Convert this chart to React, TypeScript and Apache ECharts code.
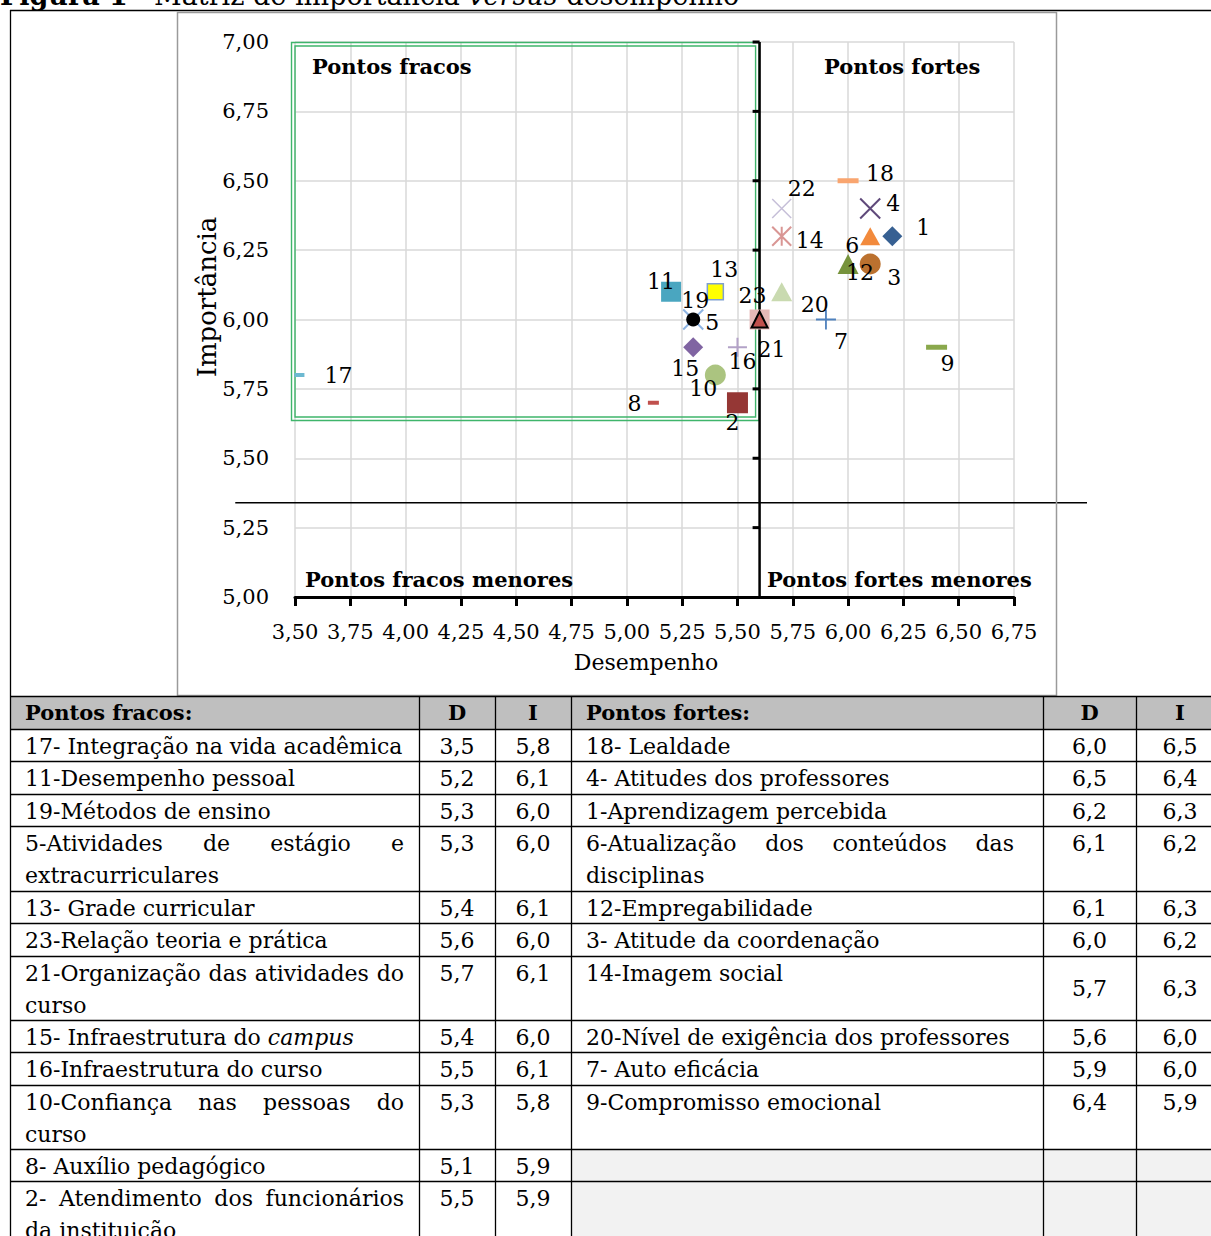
import React, { useEffect, useRef } from 'react';
import * as echarts from 'echarts';

const W = 1211;
const H = 1236;
const SERIF = "'DejaVu Serif', 'Liberation Serif', serif";

// ---------- scatter data (as plotted in the matrix) ----------
const pointIds = ['17', '11', '13', '19', '5', '23', '21', '20', '15', '16', '10', '8', '2', '22', '14', '18', '4', '1', '6', '12', '3', '7', '9'];
const pointDesempenho = [3.52, 5.2, 5.4, 5.3, 5.3, 5.6, 5.6, 5.7, 5.3, 5.5, 5.4, 5.12, 5.5, 5.7, 5.7, 6.0, 6.1, 6.2, 6.1, 6.0, 6.1, 5.9, 6.4];
const pointImportancia = [5.8, 6.1, 6.1, 6.0, 6.0, 6.0, 6.0, 6.1, 5.9, 5.9, 5.8, 5.7, 5.7, 6.4, 6.3, 6.5, 6.4, 6.3, 6.3, 6.2, 6.2, 6.0, 5.9];

// ---------- axes ----------
const xMin = 3.5;
const xMax = 6.75;
const yMin = 5;
const yMax = 7;
const step = 0.25;
const axisCrossX = 5.6;
const quadrantY = 5.34;
const quadrantX0 = 3.23;
const quadrantX1 = 7.08;
const weakBoxLeft = 3.482;
const weakBoxBottom = 5.634;

// ---------- table data ----------
const weakLabels = [
  '17- Integração na vida acadêmica',
  '11-Desempenho pessoal',
  '19-Métodos de ensino',
  '5-Atividades de estágio e\nextracurriculares',
  '13- Grade curricular',
  '23-Relação teoria e prática',
  '21-Organização das atividades do\ncurso',
  '15- Infraestrutura do {i|campus}',
  '16-Infraestrutura do curso',
  '10-Confiança nas pessoas do\ncurso',
  '8- Auxílio pedagógico',
  '2- Atendimento dos funcionários\nda instituição',
];
const weakD = [3.5, 5.2, 5.3, 5.3, 5.4, 5.6, 5.7, 5.4, 5.5, 5.3, 5.1, 5.5];
const weakI = [5.8, 6.1, 6.0, 6.0, 6.1, 6.0, 6.1, 6.0, 6.1, 5.8, 5.9, 5.9];

const strongLabels = [
  '18- Lealdade',
  '4- Atitudes dos professores',
  '1-Aprendizagem percebida',
  '6-Atualização dos conteúdos das\ndisciplinas',
  '12-Empregabilidade',
  '3- Atitude da coordenação',
  '14-Imagem social',
  '20-Nível de exigência dos professores',
  '7- Auto eficácia',
  '9-Compromisso emocional',
];
const strongD = [6.0, 6.5, 6.2, 6.1, 6.1, 6.0, 5.7, 5.6, 5.9, 6.4];
const strongI = [6.5, 6.4, 6.3, 6.2, 6.3, 6.2, 6.3, 6.0, 6.0, 5.9];

// ---------- marker styles ----------
const PATH_X = 'path://M0,0L10,10M10,0L0,10';
const PATH_PLUS = 'path://M5,0L5,10M0,5L10,5';
const PATH_STAR = 'path://M0,0L10,10M10,0L0,10M5,0L5,10';

const markerStyles: Record<string, any> = {
  '17': { symbol: 'rect', size: [10, 4], color: '#6db9d1' },
  '11': { symbol: 'rect', size: [20, 20], color: '#4aa6c0' },
  '13': { symbol: 'rect', size: [16, 16], color: '#ffff00', border: '#7f9fd0', bw: 1.5 },
  '19': { symbol: PATH_X, size: [20, 20], stroke: '#8db3e2', bw: 2 },
  '5': { symbol: 'circle', size: 14, color: '#000000' },
  '23': { symbol: 'rect', size: [20, 20], color: '#e6b9b8' },
  '21': { symbol: 'triangle', size: [16, 16], color: '#c0504d', border: '#000000', bw: 2 },
  '20': { symbol: 'triangle', size: [21, 19], color: '#c9dab0' },
  '15': { symbol: 'diamond', size: [20, 20], color: '#8064a2' },
  '16': { symbol: PATH_PLUS, size: [19, 19], stroke: '#b3a2c7', bw: 2 },
  '10': { symbol: 'circle', size: 21, color: '#abc480' },
  '8': { symbol: 'rect', size: [11, 4], color: '#c0504d' },
  '2': { symbol: 'rect', size: [21, 21], color: '#953735' },
  '22': { symbol: PATH_X, size: [19, 19], stroke: '#c6bfd8', bw: 1.5 },
  '14': { symbol: PATH_STAR, size: [19, 19], stroke: '#d99694', bw: 2 },
  '18': { symbol: 'rect', size: [21, 5], color: '#f9a56f' },
  '4': { symbol: PATH_X, size: [20, 20], stroke: '#5f497a', bw: 2 },
  '1': { symbol: 'diamond', size: [20, 20], color: '#376092' },
  '6': { symbol: 'triangle', size: [20, 18], color: '#f28a3c' },
  '12': { symbol: 'triangle', size: [21, 20], color: '#77933c' },
  '3': { symbol: 'circle', size: 21, color: '#bb712f' },
  '7': { symbol: PATH_PLUS, size: [20, 20], stroke: '#4f81bd', bw: 1.8 },
  '9': { symbol: 'rect', size: [21, 5], color: '#8aa84c' },
};

const labelOffsets: Record<string, number[]> = {
  '17': [39, 0], '11': [-10, -10], '13': [9, -22], '19': [2, -19], '5': [19, 3],
  '23': [-7, -24], '21': [12, 30], '20': [33, 13], '15': [-8, 21], '16': [5, 14],
  '10': [-12, 13], '8': [-19, 1], '2': [-5, 20], '22': [20, -20], '14': [28, 4],
  '18': [32, -7], '4': [23, -5], '1': [31, -9], '6': [-18, 9], '12': [12, 8],
  '3': [24, 13], '7': [15, 22], '9': [11, 16],
};

// ---------- layout of the table ----------
const colX = [10, 419, 495, 571, 1043, 1136, 1225];
const rowY = [696, 729, 761, 794, 826, 891, 923, 956, 1020, 1052, 1085, 1149, 1181, 1250];
const LINE_H = 32;
const TABLE_FONT = 22;

const fmt1 = (v: number) => v.toFixed(1).replace('.', ',');
const fmt2 = (v: number) => v.toFixed(2).replace('.', ',');

let measureCtx: CanvasRenderingContext2D | null = null;
function measure(t: string, size = TABLE_FONT): number {
  if (!measureCtx) measureCtx = document.createElement('canvas').getContext('2d');
  if (!measureCtx) return t.length * size * 0.55;
  measureCtx.font = `${size}px 'DejaVu Serif'`;
  return measureCtx.measureText(t).width;
}

const richStyles = {
  i: { fontStyle: 'italic', fontSize: TABLE_FONT, fontFamily: SERIF, fill: '#000' },
};

function textEl(text: string, x: number, y: number, opts: any = {}) {
  return {
    type: 'text',
    x,
    y,
    z: 5,
    silent: true,
    style: {
      text,
      fontSize: opts.size || TABLE_FONT,
      fontFamily: SERIF,
      fontWeight: opts.weight || 'normal',
      fill: '#000',
      align: opts.align || 'left',
      verticalAlign: opts.vAlign || 'middle',
      rich: richStyles,
    },
  };
}

function cellText(label: string, x0: number, yFirst: number, width: number) {
  const els: any[] = [];
  const lines = label.split('\n');
  lines.forEach((line, li) => {
    const y = yFirst + li * LINE_H;
    if (li === lines.length - 1) {
      els.push(textEl(line, x0, y));
      return;
    }
    const words = line.split(' ');
    const ws = words.map((w) => measure(w));
    const total = ws.reduce((a, b) => a + b, 0);
    const gap = Math.max(measure(' ') * 0.7, (width - total) / Math.max(1, words.length - 1));
    let x = x0;
    words.forEach((w, k) => {
      els.push(textEl(w, x, y));
      x += ws[k] + gap;
    });
  });
  return els;
}

function buildGraphics() {
  const els: any[] = [];
  const line = (x1: number, y1: number, x2: number, y2: number, stroke = '#000', lw = 1.3) => ({
    type: 'line', silent: true, z: 3, shape: { x1, y1, x2, y2 }, style: { stroke, lineWidth: lw },
  });

  // title (cut off at the top of the page, as in the source)
  els.push({
    type: 'text', x: 0, y: 9, z: 5, silent: true,
    style: {
      text: '{b|Figura 1} - Matriz de importância {i|versus} desempenho',
      fontSize: 27, fontFamily: SERIF, fill: '#000', align: 'left', verticalAlign: 'bottom',
      rich: {
        b: { fontWeight: 'bold', fontSize: 27, fontFamily: SERIF, fill: '#000' },
        i: { fontStyle: 'italic', fontSize: 27, fontFamily: SERIF, fill: '#000' },
      },
    },
  });

  // outer frame lines and chart box
  els.push(line(10, 10.5, W, 10.5));
  els.push(line(10.5, 10, 10.5, rowY[0]));
  els.push({
    type: 'rect', silent: true, z: 3,
    shape: { x: 177.5, y: 12.5, width: 879, height: 683 },
    style: { fill: 'none', stroke: '#9a9a9a', lineWidth: 1.5 },
  });

  // quadrant labels
  els.push(textEl('Pontos fracos', 312, 66, { weight: 'bold', size: 21 }));
  els.push(textEl('Pontos fortes', 824, 66, { weight: 'bold', size: 21 }));
  els.push(textEl('Pontos fracos menores', 305, 579, { weight: 'bold', size: 21 }));
  els.push(textEl('Pontos fortes menores', 767, 579, { weight: 'bold', size: 21 }));

  // axis titles
  els.push({
    type: 'text', x: 207, y: 297, rotation: Math.PI / 2, z: 5, silent: true,
    style: { text: 'Importância', fontSize: 26, fontFamily: SERIF, fill: '#000', align: 'center', verticalAlign: 'middle' },
  });
  els.push(textEl('Desempenho', 646, 662, { align: 'center', size: 22 }));

  // ---- table ----
  const top = rowY[0];
  const bottom = H;
  els.push({ type: 'rect', silent: true, z: 1, shape: { x: colX[0], y: rowY[0], width: W - colX[0], height: rowY[1] - rowY[0] }, style: { fill: '#bfbfbf' } });
  els.push({ type: 'rect', silent: true, z: 1, shape: { x: colX[3], y: rowY[11], width: W - colX[3], height: bottom - rowY[11] }, style: { fill: '#f2f2f2' } });

  rowY.forEach((y) => { if (y < H) els.push(line(colX[0], y + 0.5, W, y + 0.5)); });
  colX.slice(0, 6).forEach((x) => els.push(line(x + 0.5, top, x + 0.5, bottom)));

  const hy = (rowY[0] + rowY[1]) / 2;
  els.push(textEl('Pontos fracos:', 25, hy, { weight: 'bold', size: 21 }));
  els.push(textEl('D', (colX[1] + colX[2]) / 2, hy, { weight: 'bold', size: 21, align: 'center' }));
  els.push(textEl('I', (colX[2] + colX[3]) / 2, hy, { weight: 'bold', size: 21, align: 'center' }));
  els.push(textEl('Pontos fortes:', 586, hy, { weight: 'bold', size: 21 }));
  els.push(textEl('D', (colX[4] + colX[5]) / 2, hy, { weight: 'bold', size: 21, align: 'center' }));
  els.push(textEl('I', 1180, hy, { weight: 'bold', size: 21, align: 'center' }));

  weakLabels.forEach((lab, i) => {
    const y0 = rowY[i + 1] + 17;
    els.push(...cellText(lab, 25, y0, 379));
    els.push(textEl(fmt1(weakD[i]), (colX[1] + colX[2]) / 2, y0, { align: 'center' }));
    els.push(textEl(fmt1(weakI[i]), (colX[2] + colX[3]) / 2, y0, { align: 'center' }));
  });

  const middleRows = [6];
  strongLabels.forEach((lab, i) => {
    const y0 = rowY[i + 1] + 17;
    els.push(...cellText(lab, 586, y0, 428));
    const vy = middleRows.includes(i) ? (rowY[i + 1] + rowY[i + 2]) / 2 : y0;
    els.push(textEl(fmt1(strongD[i]), (colX[4] + colX[5]) / 2, vy, { align: 'center' }));
    els.push(textEl(fmt1(strongI[i]), 1180, vy, { align: 'center' }));
  });

  return els;
}

function buildOption(): any {
  const scatterData = pointIds.map((id, i) => {
    const m = markerStyles[id];
    const itemStyle = m.stroke
      ? { color: 'rgba(0,0,0,0)', borderColor: m.stroke, borderWidth: m.bw, opacity: 1 }
      : { color: m.color, borderColor: m.border || m.color, borderWidth: m.border ? m.bw : 0, opacity: 1 };
    return {
      name: id,
      value: [pointDesempenho[i], pointImportancia[i]],
      symbol: m.symbol,
      symbolSize: m.size,
      itemStyle,
      label: {
        show: true,
        formatter: id,
        position: 'inside',
        offset: labelOffsets[id],
        color: '#000',
        fontFamily: SERIF,
        fontSize: 22,
        textBorderWidth: 0,
      },
    };
  });

  return {
    animation: false,
    backgroundColor: '#ffffff',
    grid: { left: 295, top: 42, width: 719, height: 555, containLabel: false, outerBoundsMode: 'none' },
    xAxis: {
      type: 'value',
      min: xMin,
      max: xMax,
      interval: step,
      axisLine: { show: true, onZero: false, lineStyle: { color: '#000', width: 3 } },
      axisTick: { show: true, length: 9, lineStyle: { color: '#000', width: 3 } },
      axisLabel: { formatter: (v: number) => fmt2(v), fontFamily: SERIF, fontSize: 21, color: '#000', margin: 24 },
      splitLine: { show: true, lineStyle: { color: '#d9d9d9', width: 1.5 } },
    },
    yAxis: {
      type: 'value',
      min: yMin,
      max: yMax,
      interval: step,
      axisLine: { show: false },
      axisTick: { show: false },
      axisLabel: { formatter: (v: number) => fmt2(v), fontFamily: SERIF, fontSize: 21, color: '#000', margin: 26 },
      splitLine: { show: true, lineStyle: { color: '#d9d9d9', width: 1.5 } },
    },
    series: [
      {
        type: 'custom',
        coordinateSystem: 'cartesian2d',
        silent: true,
        z: 1,
        clip: false,
        data: [[xMin, yMin]],
        renderItem: (_params: any, api: any) => {
          const children: any[] = [];
          const a = api.coord([weakBoxLeft, yMax]);
          const b = api.coord([axisCrossX, weakBoxBottom]);
          [0.5, 4].forEach((inset) => {
            children.push({
              type: 'rect',
              shape: { x: a[0] + inset, y: a[1] + inset, width: b[0] - a[0] - 2 * inset, height: b[1] - a[1] - 2 * inset },
              style: { fill: 'none', stroke: '#3fb56b', lineWidth: 1.4 },
            });
          });
          const t = api.coord([axisCrossX, yMax]);
          const bt = api.coord([axisCrossX, yMin]);
          children.push({ type: 'line', shape: { x1: t[0], y1: t[1], x2: bt[0], y2: bt[1] }, style: { stroke: '#000', lineWidth: 2.5 } });
          for (let v = yMin + step; v <= yMax + 1e-9; v += step) {
            const p = api.coord([axisCrossX, v]);
            children.push({ type: 'line', shape: { x1: p[0] - 7, y1: p[1], x2: p[0], y2: p[1] }, style: { stroke: '#000', lineWidth: 3 } });
          }
          const l = api.coord([quadrantX0, quadrantY]);
          const r = api.coord([quadrantX1, quadrantY]);
          children.push({ type: 'line', shape: { x1: l[0], y1: l[1], x2: r[0], y2: r[1] }, style: { stroke: '#000', lineWidth: 1.5 } });
          return { type: 'group', children };
        },
      },
      {
        type: 'scatter',
        z: 3,
        silent: true,
        itemStyle: { opacity: 1 },
        data: scatterData,
        emphasis: { disabled: true },
      },
    ],
    graphic: { elements: buildGraphics() },
  };
}

export default function App() {
  const ref = useRef<HTMLDivElement>(null);
  useEffect(() => {
    document.body.style.margin = '0';
    document.body.style.overflow = 'hidden';
    const chart = echarts.init(ref.current!, null, { renderer: 'svg', width: W, height: H });
    chart.setOption(buildOption());
    return () => chart.dispose();
  }, []);
  return <div ref={ref} style={{ width: W, height: H }} />;
}
